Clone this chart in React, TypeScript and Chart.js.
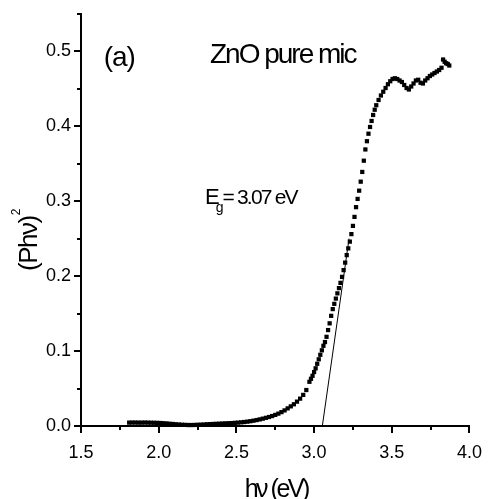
import React, { useEffect, useRef } from 'react';
import { Chart, registerables } from 'chart.js';

Chart.register(...registerables);

// Photon energy (eV)
const energy: number[] = [
  1.81, 1.83, 1.85, 1.87, 1.89, 1.91, 1.93, 1.95, 1.97, 1.99,
  2.01, 2.03, 2.05, 2.07, 2.09, 2.11, 2.13, 2.15, 2.17, 2.19,
  2.21, 2.23, 2.25, 2.27, 2.29, 2.31, 2.33, 2.35, 2.37, 2.39,
  2.41, 2.43, 2.45, 2.47, 2.49, 2.51, 2.53, 2.55, 2.57, 2.59,
  2.61, 2.63, 2.65, 2.67, 2.69, 2.71, 2.73, 2.75, 2.77, 2.79,
  2.81, 2.83, 2.85, 2.87, 2.89, 2.91, 2.93, 2.95, 2.97,
  2.98, 2.99, 3.0, 3.01, 3.02, 3.03, 3.04, 3.05, 3.06, 3.07,
  3.08, 3.09, 3.1, 3.11, 3.12, 3.13, 3.14, 3.15, 3.16, 3.17,
  3.18, 3.19, 3.2, 3.21, 3.22, 3.23, 3.24, 3.25, 3.26, 3.27,
  3.28, 3.29, 3.3, 3.31, 3.32, 3.33, 3.34, 3.35, 3.36, 3.37,
  3.38, 3.39, 3.4,
  3.415, 3.43, 3.445, 3.46, 3.475, 3.49, 3.505, 3.52, 3.535, 3.55,
  3.565, 3.58, 3.595, 3.61, 3.625, 3.64, 3.655, 3.67, 3.685, 3.7,
  3.715, 3.73, 3.745, 3.76, 3.775, 3.79, 3.805, 3.82, 3.83, 3.84,
  3.85, 3.86, 3.87,
];

// (P h nu)^2
const absorption: number[] = [
  0.0045, 0.0046, 0.0046, 0.0045, 0.0045, 0.0046, 0.0045, 0.0044, 0.0043, 0.0042,
  0.004, 0.0037, 0.0034, 0.003, 0.0027, 0.0023, 0.002, 0.0017, 0.0015, 0.0013,
  0.0013, 0.0014, 0.0016, 0.0018, 0.002, 0.0023, 0.0025, 0.0027, 0.0029, 0.0031,
  0.0033, 0.0035, 0.0037, 0.0039, 0.0042, 0.0045, 0.0049, 0.0053, 0.0058, 0.0064,
  0.0071, 0.0079, 0.0088, 0.0098, 0.0109, 0.012, 0.0133, 0.0148, 0.0165, 0.0185,
  0.0208, 0.0235, 0.0262, 0.029, 0.0325, 0.0365, 0.0415, 0.048, 0.059,
  0.063, 0.067, 0.072, 0.077, 0.083, 0.089, 0.095, 0.101, 0.107, 0.112,
  0.119, 0.128, 0.137, 0.147, 0.156, 0.163, 0.17, 0.177, 0.184, 0.191,
  0.199, 0.208, 0.218, 0.228, 0.237, 0.246, 0.256, 0.267, 0.279, 0.292,
  0.303, 0.314, 0.326, 0.339, 0.354, 0.369, 0.38, 0.39, 0.399, 0.407,
  0.415, 0.422, 0.428,
  0.435, 0.441, 0.446, 0.451, 0.456, 0.46, 0.463, 0.464, 0.463, 0.461,
  0.459, 0.455, 0.451, 0.449, 0.453, 0.457, 0.461, 0.462, 0.458, 0.457,
  0.461, 0.464, 0.467, 0.469, 0.471, 0.473, 0.475, 0.478, 0.489, 0.486,
  0.484, 0.483, 0.481,
];

// Linear extrapolation of the absorption edge
const fitX: number[] = [3.053, 3.225];
const fitY: number[] = [0, 0.25];

const xMinorTicks: number[] = [1.75, 2.25, 2.75, 3.25, 3.75];
const yMinorTicks: number[] = [0.05, 0.15, 0.25, 0.35, 0.45, 0.55];

const panelLabel = '(a)';
const panelLabelAt: number[] = [1.646, 0.48];
const sampleLabel = 'ZnO pure mic';
const sampleLabelAt: number[] = [2.33, 0.484];
const gapValue = '= 3.07 eV';
const gapLabelAt: number[] = [2.298, 0.2965];

const xTitle = 'h\u03bd (eV)';
const yTitle = '(Ph\u03bd)';

const FONT = '"Liberation Sans", Arial, Helvetica, sans-serif';

const decorPlugin = {
  id: 'decor',
  afterDraw(chart: any) {
    const { ctx, chartArea, scales } = chart;
    const xs = scales.x;
    const ys = scales.y;
    ctx.save();
    // minor ticks
    ctx.strokeStyle = '#000';
    ctx.lineWidth = 2;
    ctx.beginPath();
    for (const v of xMinorTicks) {
      const px = Math.round(xs.getPixelForValue(v));
      ctx.moveTo(px, chartArea.bottom);
      ctx.lineTo(px, chartArea.bottom + 4);
    }
    for (const v of yMinorTicks) {
      const py = Math.round(ys.getPixelForValue(v));
      ctx.moveTo(chartArea.left, py);
      ctx.lineTo(chartArea.left - 4, py);
    }
    ctx.stroke();

    ctx.fillStyle = '#000';
    ctx.textBaseline = 'alphabetic';
    ctx.textAlign = 'left';
    const setLS = (v: string) => {
      try { (ctx as any).letterSpacing = v; } catch (e) { /* ignore */ }
    };

    // (a)
    ctx.font = `28px ${FONT}`;
    setLS('-1px');
    ctx.fillText(panelLabel, xs.getPixelForValue(panelLabelAt[0]), ys.getPixelForValue(panelLabelAt[1]));

    // ZnO pure mic
    ctx.font = `28px ${FONT}`;
    setLS('-2px');
    ctx.fillText(sampleLabel, xs.getPixelForValue(sampleLabelAt[0]), ys.getPixelForValue(sampleLabelAt[1]));

    // E_g = 3.07 eV
    const ex = xs.getPixelForValue(gapLabelAt[0]);
    const ey = ys.getPixelForValue(gapLabelAt[1]);
    ctx.font = `22px ${FONT}`;
    setLS('0px');
    ctx.fillText('E', ex, ey);
    const eW = ctx.measureText('E').width;
    ctx.font = `14px ${FONT}`;
    const gx = ex + eW - 4;
    ctx.fillText('g', gx, ey + 8);
    const gW = ctx.measureText('g').width;
    ctx.font = `21px ${FONT}`;
    setLS('-1.8px');
    ctx.fillText(gapValue, gx + gW - 1, ey);

    // x title
    ctx.font = `25px ${FONT}`;
    setLS('-2.5px');
    ctx.textAlign = 'center';
    const cx = (chartArea.left + chartArea.right) / 2;
    ctx.fillText(xTitle, cx + 1, chart.height - 2);

    // y title (rotated)
    ctx.save();
    ctx.translate(37, ys.getPixelForValue(0.5 * (0.55)) + 51);
    ctx.rotate(-Math.PI / 2);
    ctx.textAlign = 'left';
    ctx.font = `26px ${FONT}`;
    setLS('-1.5px');
    ctx.fillText(yTitle, 0, 0);
    const tw = ctx.measureText(yTitle).width;
    ctx.font = `12px ${FONT}`;
    setLS('0px');
    ctx.fillText('2', tw + 1, -17);
    ctx.restore();

    setLS('0px');
    ctx.restore();
  },
};

export default function App() {
  const canvasRef = useRef<HTMLCanvasElement | null>(null);

  useEffect(() => {
    const canvas = canvasRef.current;
    if (!canvas) return;
    const tickFont = { family: FONT, size: 18 };
    const chart = new Chart(canvas, {
      type: 'scatter',
      data: {
        datasets: [
          {
            label: 'data',
            data: energy.map((e, i) => ({ x: e, y: absorption[i] })),
            showLine: false,
            pointStyle: 'rect',
            pointRadius: 3,
            pointBorderWidth: 0,
            backgroundColor: '#000',
            borderColor: '#000',
            clip: false as any,
          },
          {
            label: 'fit',
            data: fitX.map((e, i) => ({ x: e, y: fitY[i] })),
            showLine: true,
            pointRadius: 0,
            borderWidth: 1,
            borderColor: '#000',
            clip: false as any,
          },
        ],
      },
      options: {
        animation: false,
        responsive: false,
        devicePixelRatio: 1,
        layout: { padding: { top: 13, right: 15, left: 0, bottom: 0 } },
        plugins: {
          legend: { display: false },
          tooltip: { enabled: false },
          title: { display: false },
        },
        scales: {
          x: {
            type: 'linear',
            position: 'bottom',
            min: 1.5,
            max: 4.0,
            ticks: {
              stepSize: 0.5,
              includeBounds: false,
              autoSkip: false,
              maxRotation: 0,
              padding: 9,
              color: '#000',
              font: tickFont,
              callback: (v: any) => Number(v).toFixed(1),
            },
            grid: {
              display: true,
              drawOnChartArea: false,
              drawTicks: true,
              tickLength: 7,
              lineWidth: 2,
              color: '#000',
            },
            border: { display: true, color: '#000', width: 2 },
            afterFit: (s: any) => { s.height = 73; },
          },
          y: {
            type: 'linear',
            position: 'left',
            min: 0,
            max: 0.55,
            ticks: {
              stepSize: 0.1,
              includeBounds: false,
              autoSkip: false,
              padding: 3,
              color: '#000',
              font: tickFont,
              callback: (v: any) => Number(v).toFixed(1),
            },
            grid: {
              display: true,
              drawOnChartArea: false,
              drawTicks: true,
              tickLength: 7,
              lineWidth: 2,
              color: '#000',
            },
            border: { display: true, color: '#000', width: 2 },
            afterFit: (s: any) => { s.width = 81; },
          },
        },
      },
      plugins: [decorPlugin],
    } as any);
    return () => chart.destroy();
  }, []);

  return (
    <div style={{ position: 'fixed', left: 0, top: 0, width: 491, height: 499, background: '#fff' }}>
      <canvas ref={canvasRef} width={491} height={499} style={{ display: 'block' }} />
    </div>
  );
}
